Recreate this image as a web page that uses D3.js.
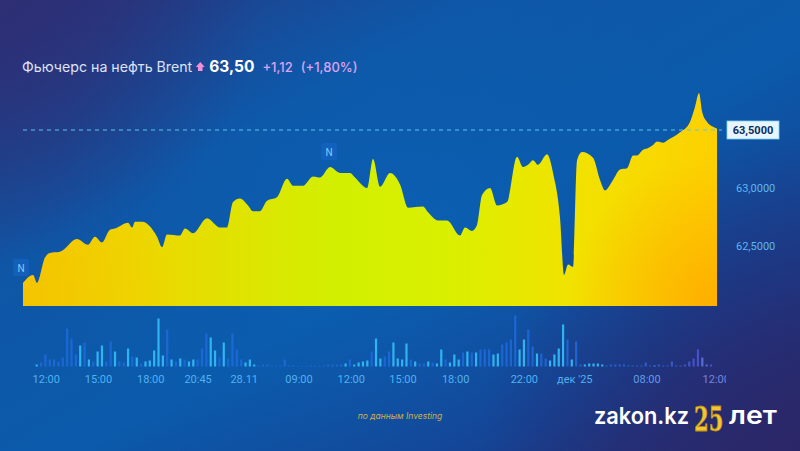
<!DOCTYPE html>
<html><head><meta charset="utf-8">
<script src="https://cdn.jsdelivr.net/npm/d3@7"></script>
<style>html,body{margin:0;padding:0;background:#0c4f9e;}svg{display:block;}</style>
</head><body>
<svg id="c" width="800" height="451"></svg>
<script>
// ---------- DATA ----------
const priceT = [-3.15,-0.85,0.07,1.91,3.06,5.36,9.26,11.79,13.40,15.01,16.85,18.00,20.99,21.91,22.60,24.21,27.66,28.81,29.95,32.94,34.09,35.93,39.15,42.14,43.75,45.13,46.74,48.57,49.72,51.33,52.94,55.24,57.54,58.92,61.22,63.52,65.13,67.43,69.72,72.02,73.17,75.93,77.31,78.92,81.22,83.52,85.36,88.80,89.95,92.25,94.32,97.31,98.46,100.07,101.22,102.37,104.21,105.82,108.12,110.41,111.79,112.94,114.09,115.24,117.31,118.69,120.30,121.22,122.14,123.29,124.21,125.36,127.89,129.49,130.64,132.48,134.09,135.70,137.08,138.00,139.38,140.30,141.68,142.60,143.98,144.90,147.89,150.18,151.33,152.25,152.94,154.09,155.93,156.39];
const priceV = [62.18,62.25,62.18,62.40,62.44,62.45,62.56,62.51,62.58,62.53,62.64,62.65,62.70,62.66,62.71,62.71,62.58,62.49,62.60,62.59,62.65,62.61,62.74,62.66,62.66,62.88,62.91,62.85,62.80,62.80,62.89,62.92,63.08,63.02,63.02,63.10,63.09,63.18,63.13,63.13,63.09,63.00,63.25,63.01,63.13,63.03,62.83,62.84,62.79,62.72,62.72,62.59,62.66,62.63,62.68,62.94,63.00,62.85,62.88,63.27,63.18,63.20,63.24,63.20,63.29,63.13,62.74,62.25,62.34,62.32,63.24,63.31,63.26,63.07,62.98,63.07,63.16,63.17,63.28,63.28,63.33,63.34,63.37,63.40,63.39,63.41,63.48,63.57,63.70,63.82,63.66,63.57,63.52,63.51];
const volume = [2,4,12,7,7,5,9,38,28,12,21,24,7,5,15,21,5,25,15,5,4,18,10,9,3,5,6,16,48,11,37,7,5,8,7,5,7,7,
  18,33,29,16,9,24,8,33,17,7,4,7,2,1,2,2,1,1,1,7,1,1,0.6,0.6,0.6,1,1,1,1,2,2,2,2,3,7,2,4,5,6,15,
  28,8,10,15,24,8,7,23,7,5,3,3,5,4,3,17,7,4,12,7,14,15,14,14,17,17,17,12,13,22,24,27,51,17,27,37,20,13,13,8,
  6,12,18,42,27,7,25,2,2,3,3,3,2,1,2,2,2,2,1,1,1,1,4,1,1,2,1,1,5,1,1,2,5,8,17,9,2,2];
const volUp = [1,0,0,0,0,0,0,0,0,0,1,0,1,0,1,1,0,0,1,0,0,1,0,1,0,1,1,1,1,1,0,1,0,1,0,1,1,0,
  0,0,1,1,0,1,0,0,0,0,1,1,1,0,0,0,0,0,0,0,0,0,0,0,0,0,0,0,0,0,0,0,0,1,0,1,1,1,1,0,
  1,1,0,0,1,1,1,1,0,1,0,0,1,0,1,1,0,1,1,1,0,1,0,1,0,0,0,1,1,0,0,0,0,1,1,0,0,1,0,0,
  1,1,1,1,0,1,0,0,1,1,1,1,1,0,0,0,0,0,0,0,0,0,0,0,1,0,0,0,0,0,0,0,0,0,0,1,1,0];
const tickT = [2.2,14.2,26.2,37.1,47.7,60.3,72.3,84.2,96.3,112.1,123.7,140.3,156.2];
const tickLabels = ["12:00","15:00","18:00","20:45","28.11","09:00","12:00","15:00","18:00","22:00","дек '25","08:00","12:00"];
const yTicks = [62.5, 63.0];
const lastPrice = 63.50;
const markerT = [-3.6, 67.2];
const titleText = "Фьючерс на нефть Brent";
const priceText = "63,50";
const changeText = "+1,12";
const changePctText = "(+1,80%)";

// ---------- SETUP ----------
const svg = d3.select("#c");
const W = 800, H = 451;
const defs = svg.append("defs");

function lin(id, x1, y1, x2, y2, stops, units) {
  const g = defs.append("linearGradient").attr("id", id)
    .attr("x1", x1).attr("y1", y1).attr("x2", x2).attr("y2", y2);
  if (units) g.attr("gradientUnits", units);
  stops.forEach(s => g.append("stop").attr("offset", s[0]).attr("stop-color", s[1]).attr("stop-opacity", s[2] == null ? 1 : s[2]));
}
function rad(id, cx, cy, r, stops) {
  const g = defs.append("radialGradient").attr("id", id).attr("gradientUnits", "userSpaceOnUse")
    .attr("cx", cx).attr("cy", cy).attr("r", r);
  stops.forEach(s => g.append("stop").attr("offset", s[0]).attr("stop-color", s[1]).attr("stop-opacity", s[2] == null ? 1 : s[2]));
}

// background
lin("bg", 0, 0, 1, 1, [[0, "#2b2f76"], [0.3, "#0f56a6"], [0.55, "#0b5aab"], [0.8, "#173f90"], [1, "#2a286a"]]);
rad("bgGlow", 380, 220, 330, [[0, "#0a62b6", 0.55], [1, "#0a62b6", 0]]);
rad("bgCorner", 800, 451, 320, [[0, "#2b2668", 0.9], [1, "#2b2668", 0]]);
rad("bgTL", 0, 0, 260, [[0, "#2e2e74", 0.85], [1, "#2e2e74", 0]]);
svg.append("rect").attr("width", W).attr("height", H).attr("fill", "url(#bg)");
svg.append("rect").attr("width", W).attr("height", H).attr("fill", "url(#bgGlow)");
svg.append("rect").attr("width", W).attr("height", H).attr("fill", "url(#bgTL)");
svg.append("rect").attr("width", W).attr("height", H).attr("fill", "url(#bgCorner)");

// scales
const x = d3.scaleLinear().domain([0, 155]).range([36.7, 711]);
const y = d3.scaleLinear().domain([62.5, 63.5]).range([246, 130]);
const baseY = 306;
const vy = d3.scaleLinear().domain([0, 51]).range([366.5, 315.5]);

// ---------- AREA ----------
lin("areaG", 23, 0, 717, 0, [[0, "#f5c800"], [0.15, "#efd500"], [0.45, "#d2ef00"], [0.6, "#d9f000"], [0.8, "#f2e200"], [1, "#fdd000"]], "userSpaceOnUse");
rad("areaBR", 717, 306, 150, [[0, "#ffa800", 0.85], [1, "#ffa800", 0]]);
rad("areaBL", 23, 306, 160, [[0, "#f2b800", 0.3], [1, "#f2b800", 0]]);
const pts = priceT.map((t, i) => [t, priceV[i]]);
const area = d3.area().x(d => x(d[0])).y0(baseY).y1(d => y(d[1])).curve(d3.curveMonotoneX);
defs.append("clipPath").attr("id", "areaClip").append("path").attr("d", area(pts));
svg.append("path").attr("d", area(pts)).attr("fill", "url(#areaG)");
svg.append("rect").attr("x", 0).attr("y", 80).attr("width", W).attr("height", 240).attr("fill", "url(#areaBR)").attr("clip-path", "url(#areaClip)");
svg.append("rect").attr("x", 0).attr("y", 80).attr("width", W).attr("height", 240).attr("fill", "url(#areaBL)").attr("clip-path", "url(#areaClip)");

// dashed last price line
svg.append("line").attr("x1", x(priceT[0])).attr("x2", 722)
  .attr("y1", y(lastPrice)).attr("y2", y(lastPrice))
  .attr("stroke", "#5ec4f2").attr("stroke-width", 1).attr("stroke-dasharray", "4,4");
const fmt = v => d3.format(".4f")(v).replace(".", ",");
svg.append("rect").attr("x", 727).attr("y", y(lastPrice) - 9).attr("width", 52).attr("height", 18)
  .attr("fill", "#e6f6ff").attr("stroke", "#7fd0f5").attr("stroke-width", 0.8);
svg.append("text").attr("x", 753).attr("y", y(lastPrice) + 4).attr("text-anchor", "middle")
  .attr("font-family", "Roboto").attr("font-weight", 700).attr("font-size", 11).attr("fill", "#0c2c5e")
  .text(fmt(lastPrice));

// y axis
const yAxis = svg.append("g").attr("transform", "translate(733,0)")
  .call(d3.axisRight(y).tickValues(yTicks).tickSize(0).tickFormat(fmt));
yAxis.select(".domain").remove();
yAxis.selectAll("text").attr("font-family", "Roboto").attr("font-size", 11).attr("fill", "#5db6ef").attr("dx", 0);

// N markers
markerT.forEach(t => {
  const bis = d3.bisector(d => d[0]).left(pts, t);
  const p = pts[Math.max(0, Math.min(pts.length - 1, bis))];
  const cx = x(t), cy = y(p[1]) - 15;
  svg.append("rect").attr("x", cx - 8).attr("y", cy - 9).attr("width", 16).attr("height", 17).attr("rx", 2)
    .attr("fill", "#1565c4").attr("fill-opacity", 0.65);
  svg.append("text").attr("x", cx).attr("y", cy + 4).attr("text-anchor", "middle")
    .attr("font-family", "Roboto").attr("font-size", 10).attr("fill", "#8fc6f5").text("N");
});

// ---------- VOLUME ----------
const purple = d3.scaleLinear().domain([620, 705]).range([0, 0.7]).clamp(true);
svg.append("g").selectAll("rect").data(volume).join("rect")
  .attr("x", (d, i) => x(i) - 1.1).attr("width", 2.2)
  .attr("y", d => vy(d)).attr("height", d => vy(0) - vy(d))
  .attr("fill", (d, i) => d3.interpolateRgb(volUp[i] ? "#32b9f6" : "#1f6bdc", "#6a4ccc")(purple(x(i))))
  .attr("fill-opacity", (d, i) => volUp[i] ? 0.95 : 0.85);

// x axis labels
const labelColor = d3.scaleLinear().domain([580, 720]).range(["#4fb2ef", "#7484e0"]).clamp(true);
defs.append("clipPath").attr("id", "xClip").append("rect").attr("x", 0).attr("y", 360).attr("width", 726).attr("height", 40);
svg.append("g").attr("clip-path", "url(#xClip)").selectAll("text").data(tickT).join("text")
  .attr("x", d => x(d)).attr("y", 383).attr("text-anchor", "middle")
  .attr("font-family", "Roboto").attr("font-size", 11)
  .attr("fill", d => labelColor(x(d)))
  .text((d, i) => tickLabels[i]);

// ---------- TITLE ----------
const title = svg.append("text").attr("x", 22).attr("y", 72).attr("font-family", "Inter").attr("font-size", 14.2);
title.append("tspan").attr("fill", "#dde2f8").text(titleText);
const tw = title.node().getComputedTextLength();
const ax = 22 + tw + 8;
svg.append("path")
  .attr("d", `M${ax},62 L${ax + 4.5},67 L${ax + 2.3},67 L${ax + 2.3},71 L${ax - 2.3},71 L${ax - 2.3},67 L${ax - 4.5},67 Z`)
  .attr("fill", "#f38fd6");
const t2 = svg.append("text").attr("x", ax + 9).attr("y", 72).attr("font-family", "Inter");
t2.append("tspan").attr("font-size", 15.5).attr("font-weight", 700).attr("fill", "#ffffff").text(priceText);
t2.append("tspan").attr("dx", 8).attr("font-size", 13).attr("font-weight", 500).attr("fill", "#dba4f2").text(changeText);
t2.append("tspan").attr("dx", 8).attr("font-size", 13).attr("font-weight", 500).attr("fill", "#dba4f2").text(changePctText);

// ---------- FOOTER ----------
svg.append("text").attr("x", 400).attr("y", 419).attr("text-anchor", "middle")
  .attr("font-family", "Inter").attr("font-style", "italic").attr("font-size", 8.5).attr("fill", "#c9b24e")
  .text("по данным Investing");
svg.append("text").attr("x", 594).attr("y", 424).attr("font-family", "Inter").attr("font-weight", 600)
  .attr("font-size", 23).attr("fill", "#ffffff").attr("textLength", 95).attr("lengthAdjust", "spacingAndGlyphs").text("zakon.kz");
svg.append("text").attr("transform", "translate(694,431) scale(0.62,1)").attr("font-family", "DejaVu Serif")
  .attr("font-weight", 700).attr("font-size", 34).attr("fill", "#f2c630")
  .attr("stroke", "#b88a10").attr("stroke-width", 0.8).text("25");
svg.append("text").attr("x", 729).attr("y", 424).attr("font-family", "Inter").attr("font-weight", 600)
  .attr("font-size", 25).attr("fill", "#ffffff").attr("textLength", 48).attr("lengthAdjust", "spacingAndGlyphs").text("лет");
</script>
</body></html>
